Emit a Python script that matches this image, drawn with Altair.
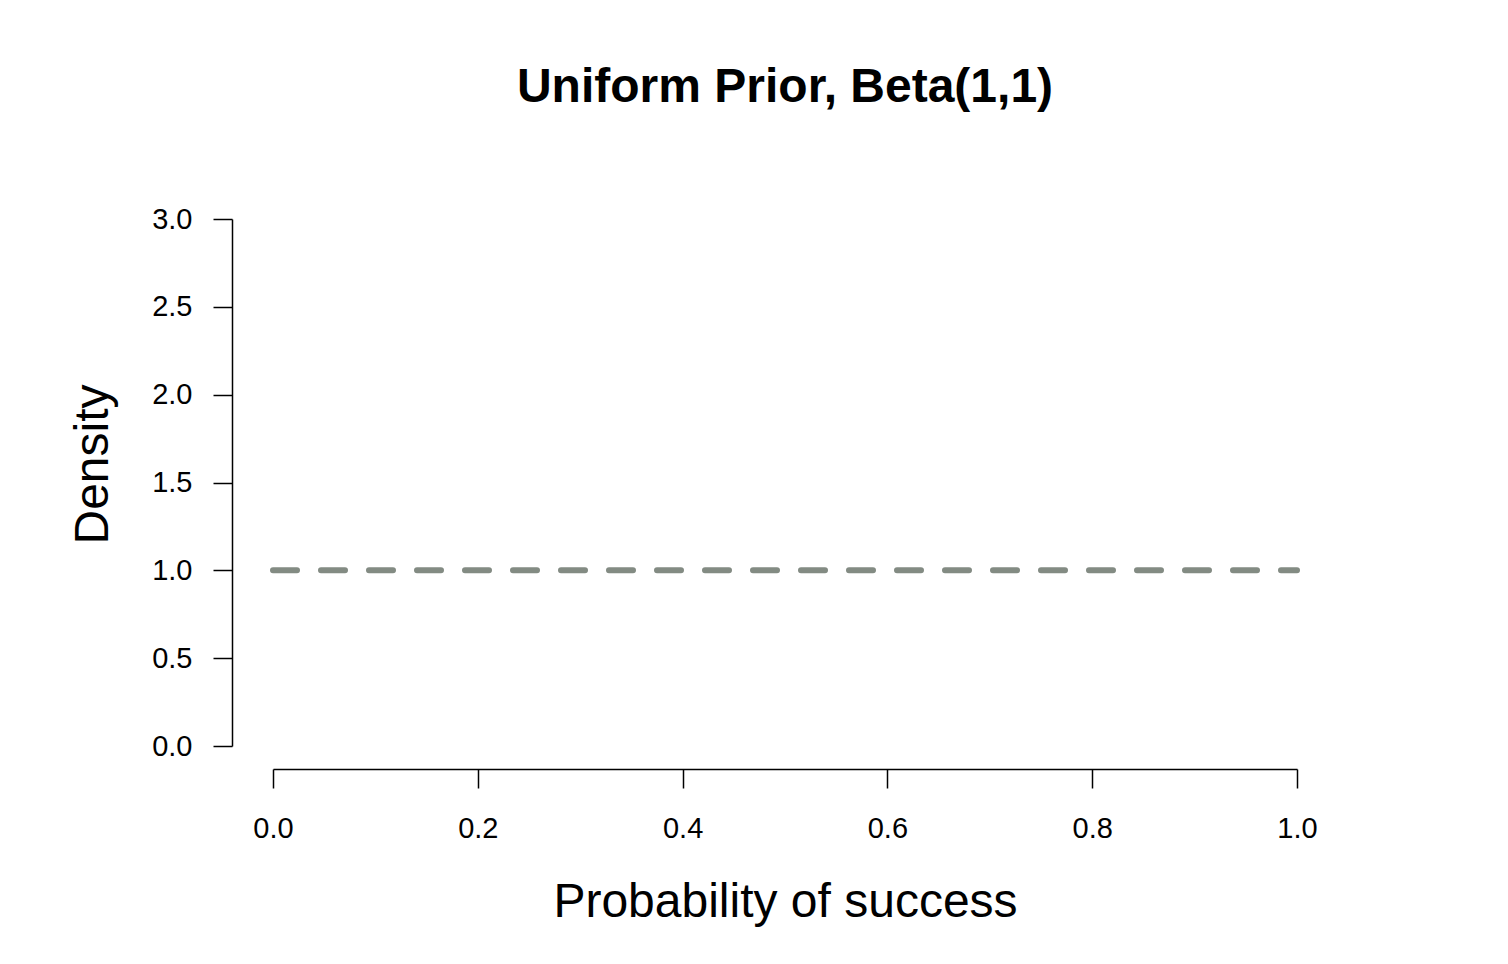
import altair as alt
import pandas as pd

# Data
x_vals = [0.0, 1.0]
density = [1.0, 1.0]
x_ticks = [0.0, 0.2, 0.4, 0.6, 0.8, 1.0]
y_ticks = [0.0, 0.5, 1.0, 1.5, 2.0, 2.5, 3.0]
TITLE = "Uniform Prior, Beta(1,1)"
X_TITLE = "Probability of success"
Y_TITLE = "Density"

df = pd.DataFrame({"p": x_vals, "d": density})

FONT = "Liberation Sans"

chart = alt.Chart(df).mark_line(
    color="#838B83", strokeWidth=6, strokeDash=[24, 24], strokeCap="round"
).encode(
    x=alt.X("p:Q",
            scale=alt.Scale(domain=[0, 1], nice=False, zero=False),
            axis=alt.Axis(values=x_ticks, format=".1f", offset=23, tickSize=19,
                          labelPadding=26, labelBaseline="top", labelFontSize=29,
                          labelFont=FONT, labelColor="black", grid=False,
                          domainColor="black", domainWidth=1.5, tickColor="black",
                          tickWidth=1.5, title=X_TITLE, titleFont=FONT,
                          titleFontSize=48, titleFontWeight="normal",
                          titleColor="black", titleBaseline="alphabetic",
                          titleX=512, titleY=147, titleAlign="center",
                          labelFlush=False, labelOverlap=False)),
    y=alt.Y("d:Q",
            scale=alt.Scale(domain=[0, 3], nice=False, zero=False),
            axis=alt.Axis(values=y_ticks, format=".1f", offset=41, tickSize=19,
                          labelPadding=21, labelFontSize=29, labelFont=FONT,
                          labelColor="black", grid=False, domainColor="black",
                          domainWidth=1.5, tickColor="black", tickWidth=1.5,
                          title=Y_TITLE, titleFont=FONT, titleFontSize=48,
                          titleFontWeight="normal", titleColor="black",
                          titleBaseline="alphabetic", titleAngle=270,
                          titleX=-125, titleY=245, titleAlign="center",
                          labelFlush=False, labelOverlap=False)),
).properties(
    width=1024,
    height=527,
    title=alt.TitleParams(TITLE, font=FONT, fontSize=48, fontWeight="bold",
                          color="black", anchor="middle", baseline="alphabetic",
                          offset=55),
    autosize=alt.AutoSizeParams(type="none"),
    padding={"left": 265, "top": 211, "right": 195, "bottom": 202},
    background="white",
).configure_view(stroke=None)

chart.save("out.html", embed_options={"renderer": "svg", "actions": False})
